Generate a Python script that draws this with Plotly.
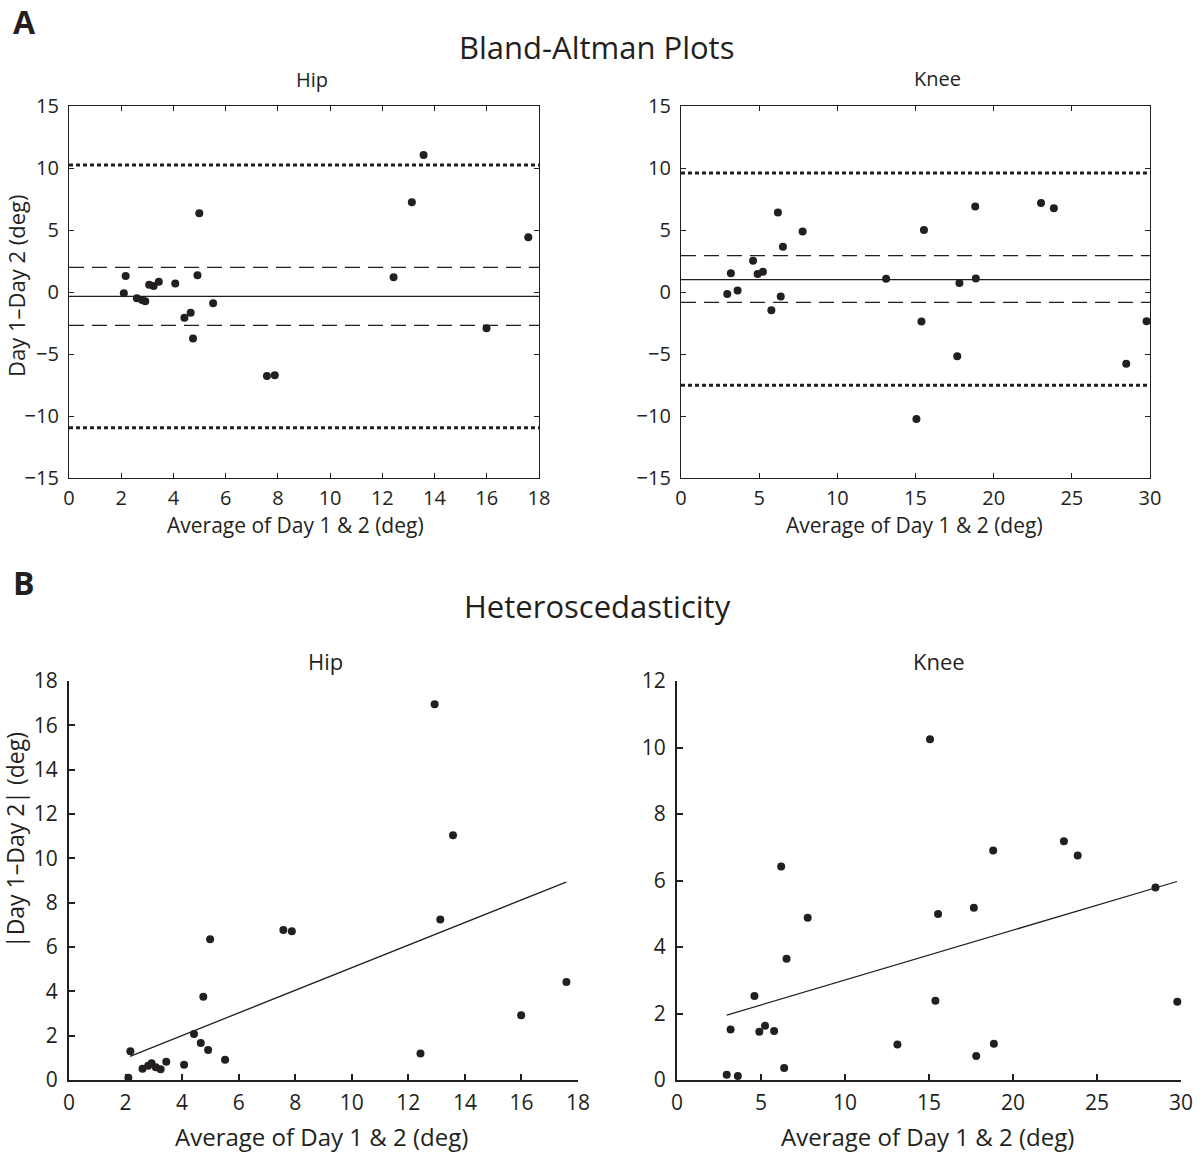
import numpy as np
import plotly.graph_objects as go

# ---------------- data ----------------
hip_avg = [2.10, 2.17, 2.60, 2.80, 2.92, 3.07, 3.24, 3.44, 4.07, 4.42, 4.66, 4.75,
           4.92, 4.99, 5.52, 7.58, 7.88, 12.43, 12.93, 13.13, 13.58, 15.99, 17.59]
hip_diff = [-0.10, 1.30, -0.51, -0.64, -0.75, 0.58, 0.48, 0.82, 0.69, -2.07, -1.67, -3.75,
            1.35, 6.35, -0.91, -6.77, -6.71, 1.19, -16.95, 7.24, 11.04, -2.92, 4.42]

knee_avg = [2.96, 3.19, 3.62, 4.61, 4.90, 5.24, 5.78, 6.20, 6.38, 6.52, 7.78, 13.12,
            15.06, 15.38, 15.54, 17.67, 17.81, 18.82, 18.86, 23.03, 23.85, 28.48, 29.78]
knee_diff = [-0.16, 1.52, 0.12, 2.53, 1.45, 1.63, -1.47, 6.42, -0.36, 3.65, 4.88, 1.07,
             -10.25, -2.38, 4.99, -5.18, 0.72, 6.90, 1.09, 7.18, 6.75, -5.79, -2.35]

hip_absdiff = list(np.abs(hip_diff))
knee_absdiff = list(np.abs(knee_diff))

# Bland-Altman reference lines: mean bias, CI of bias, limits of agreement
hip_mean = -0.35
hip_ci = [-2.69, 1.99]
hip_loa = [-10.95, 10.25]
knee_mean = 0.99
knee_ci = [-0.83, 2.93]
knee_loa = [-7.53, 9.60]

# regression line endpoints (heteroscedasticity)
hip_fit_x = [2.16, 17.58]
hip_fit_y = [1.07, 8.93]
knee_fit_x = [2.96, 29.76]
knee_fit_y = [1.95, 5.97]

# axis ticks
hip_xticks = [0, 2, 4, 6, 8, 10, 12, 14, 16, 18]
knee_xticks = [0, 5, 10, 15, 20, 25, 30]
ba_yticks = [-15, -10, -5, 0, 5, 10, 15]
hip_abs_yticks = [0, 2, 4, 6, 8, 10, 12, 14, 16, 18]
knee_abs_yticks = [0, 2, 4, 6, 8, 10, 12]

# ---------------- figure ----------------
W, H = 1200, 1152
INK = "#231f20"
FONT = "Open Sans"

def px(x):
    return x / W

def py(y):
    return 1 - y / H

fig = go.Figure()
marker = dict(color=INK, size=8)

fig.add_trace(go.Scatter(x=hip_avg, y=hip_diff, mode="markers", marker=marker,
                         xaxis="x", yaxis="y", showlegend=False, cliponaxis=False))
fig.add_trace(go.Scatter(x=knee_avg, y=knee_diff, mode="markers", marker=marker,
                         xaxis="x2", yaxis="y2", showlegend=False, cliponaxis=False))
fig.add_trace(go.Scatter(x=hip_fit_x, y=hip_fit_y, mode="lines", line=dict(color=INK, width=1.3),
                         xaxis="x3", yaxis="y3", showlegend=False))
fig.add_trace(go.Scatter(x=hip_avg, y=hip_absdiff, mode="markers", marker=marker,
                         xaxis="x3", yaxis="y3", showlegend=False, cliponaxis=False))
fig.add_trace(go.Scatter(x=knee_fit_x, y=knee_fit_y, mode="lines", line=dict(color=INK, width=1.3),
                         xaxis="x4", yaxis="y4", showlegend=False))
fig.add_trace(go.Scatter(x=knee_avg, y=knee_absdiff, mode="markers", marker=marker,
                         xaxis="x4", yaxis="y4", showlegend=False, cliponaxis=False))

shapes = []
def hline(yv, ax, dash, width):
    shapes.append(dict(type="line", xref=f"{ax[0]} domain", x0=0, x1=1, yref=ax[1], y0=yv, y1=yv,
                       line=dict(color=INK, width=width, dash=dash), layer="below"))

for ax, mean, ci, loa in [(("x", "y"), hip_mean, hip_ci, hip_loa),
                          (("x2", "y2"), knee_mean, knee_ci, knee_loa)]:
    hline(mean, ax, "solid", 1.2)
    for v in ci:
        hline(v, ax, "15px,8px", 1.2)
    for v in loa:
        hline(v, ax, "4px,3px", 3)

top_tick = dict(size=20, color=INK, family=FONT)
bot_tick = dict(size=21, color=INK, family=FONT)

def top_axis(rng, ticks, dom, standoff):
    return dict(domain=dom, range=rng, tickvals=ticks, ticks="inside", ticklen=5, tickwidth=1,
                tickcolor=INK, showline=True, linewidth=1.2, linecolor=INK, mirror="ticks",
                showgrid=False, zeroline=False, tickfont=top_tick, fixedrange=True,
                automargin=False, ticklabelstandoff=standoff)

def bot_axis(rng, ticks, dom, standoff):
    return dict(domain=dom, range=rng, tickvals=ticks, ticks="inside", ticklen=6, tickwidth=2,
                tickcolor=INK, showline=True, linewidth=2.2, linecolor=INK, mirror=False,
                showgrid=False, zeroline=False, tickfont=bot_tick, fixedrange=True,
                automargin=False, ticklabelstandoff=standoff)

top_y = [py(478), py(106)]
bot_y = [py(1080), py(681)]

layout = dict(
    width=W, height=H, autosize=False,
    margin=dict(l=0, r=0, t=0, b=0, pad=0, autoexpand=False),
    paper_bgcolor="white", plot_bgcolor="white",
    font=dict(family=FONT, color=INK),
    xaxis=dict(top_axis([0, 18], hip_xticks, [px(69), px(539)], 2), anchor="y"),
    yaxis=dict(top_axis([-15, 15], ba_yticks, top_y, 5), anchor="x"),
    xaxis2=dict(top_axis([0, 30], knee_xticks, [px(681), px(1150)], 2), anchor="y2"),
    yaxis2=dict(top_axis([-15, 15], ba_yticks, top_y, 5), anchor="x2"),
    xaxis3=dict(bot_axis([0, 18], hip_xticks, [px(69), px(578)], 3), anchor="y3"),
    yaxis3=dict(bot_axis([0, 18], hip_abs_yticks, bot_y, 5), anchor="x3"),
    xaxis4=dict(bot_axis([0, 30], knee_xticks, [px(677), px(1181)], 3), anchor="y4"),
    yaxis4=dict(bot_axis([0, 12], knee_abs_yticks, bot_y, 5), anchor="x4"),
    shapes=shapes,
)
fig.update_layout(**layout)

ann = []
def text(t, x, y, size, bold=False, angle=0, xanchor="center"):
    ann.append(dict(text=f"<b>{t}</b>" if bold else t, x=px(x), y=py(y), xref="paper", yref="paper",
                    showarrow=False, xanchor=xanchor, yanchor="middle", textangle=angle,
                    font=dict(size=size, family=FONT, color=INK)))

text("A", 11, 22, 32, bold=True, xanchor="left")
text("Bland-Altman Plots", 596, 47, 31)
text("Hip", 312, 80, 20)
text("Knee", 937, 78, 20)
text("Average of Day 1 &amp; 2 (deg)", 295, 525, 21)
text("Average of Day 1 &amp; 2 (deg)", 914, 525, 21)
text("Day 1–Day 2 (deg)", 16, 286, 22, angle=-90)

text("B", 11, 582, 32, bold=True, xanchor="left")
text("Heteroscedasticity", 597, 606, 31)
text("Hip", 325, 661, 22)
text("Knee", 939, 661, 22)
text("Average of Day 1 &amp; 2 (deg)", 321, 1136, 24)
text("Average of Day 1 &amp; 2 (deg)", 927, 1136, 24)
text("|Day 1–Day 2| (deg)", 15, 840, 23, angle=-90)

fig.update_layout(annotations=ann)

page_css = ("document.documentElement.style.margin='0';"
            "document.body.style.margin='0';"
            "document.body.style.overflow='hidden';")
fig.write_html("out.html", post_script=page_css, config={"displayModeBar": False})
